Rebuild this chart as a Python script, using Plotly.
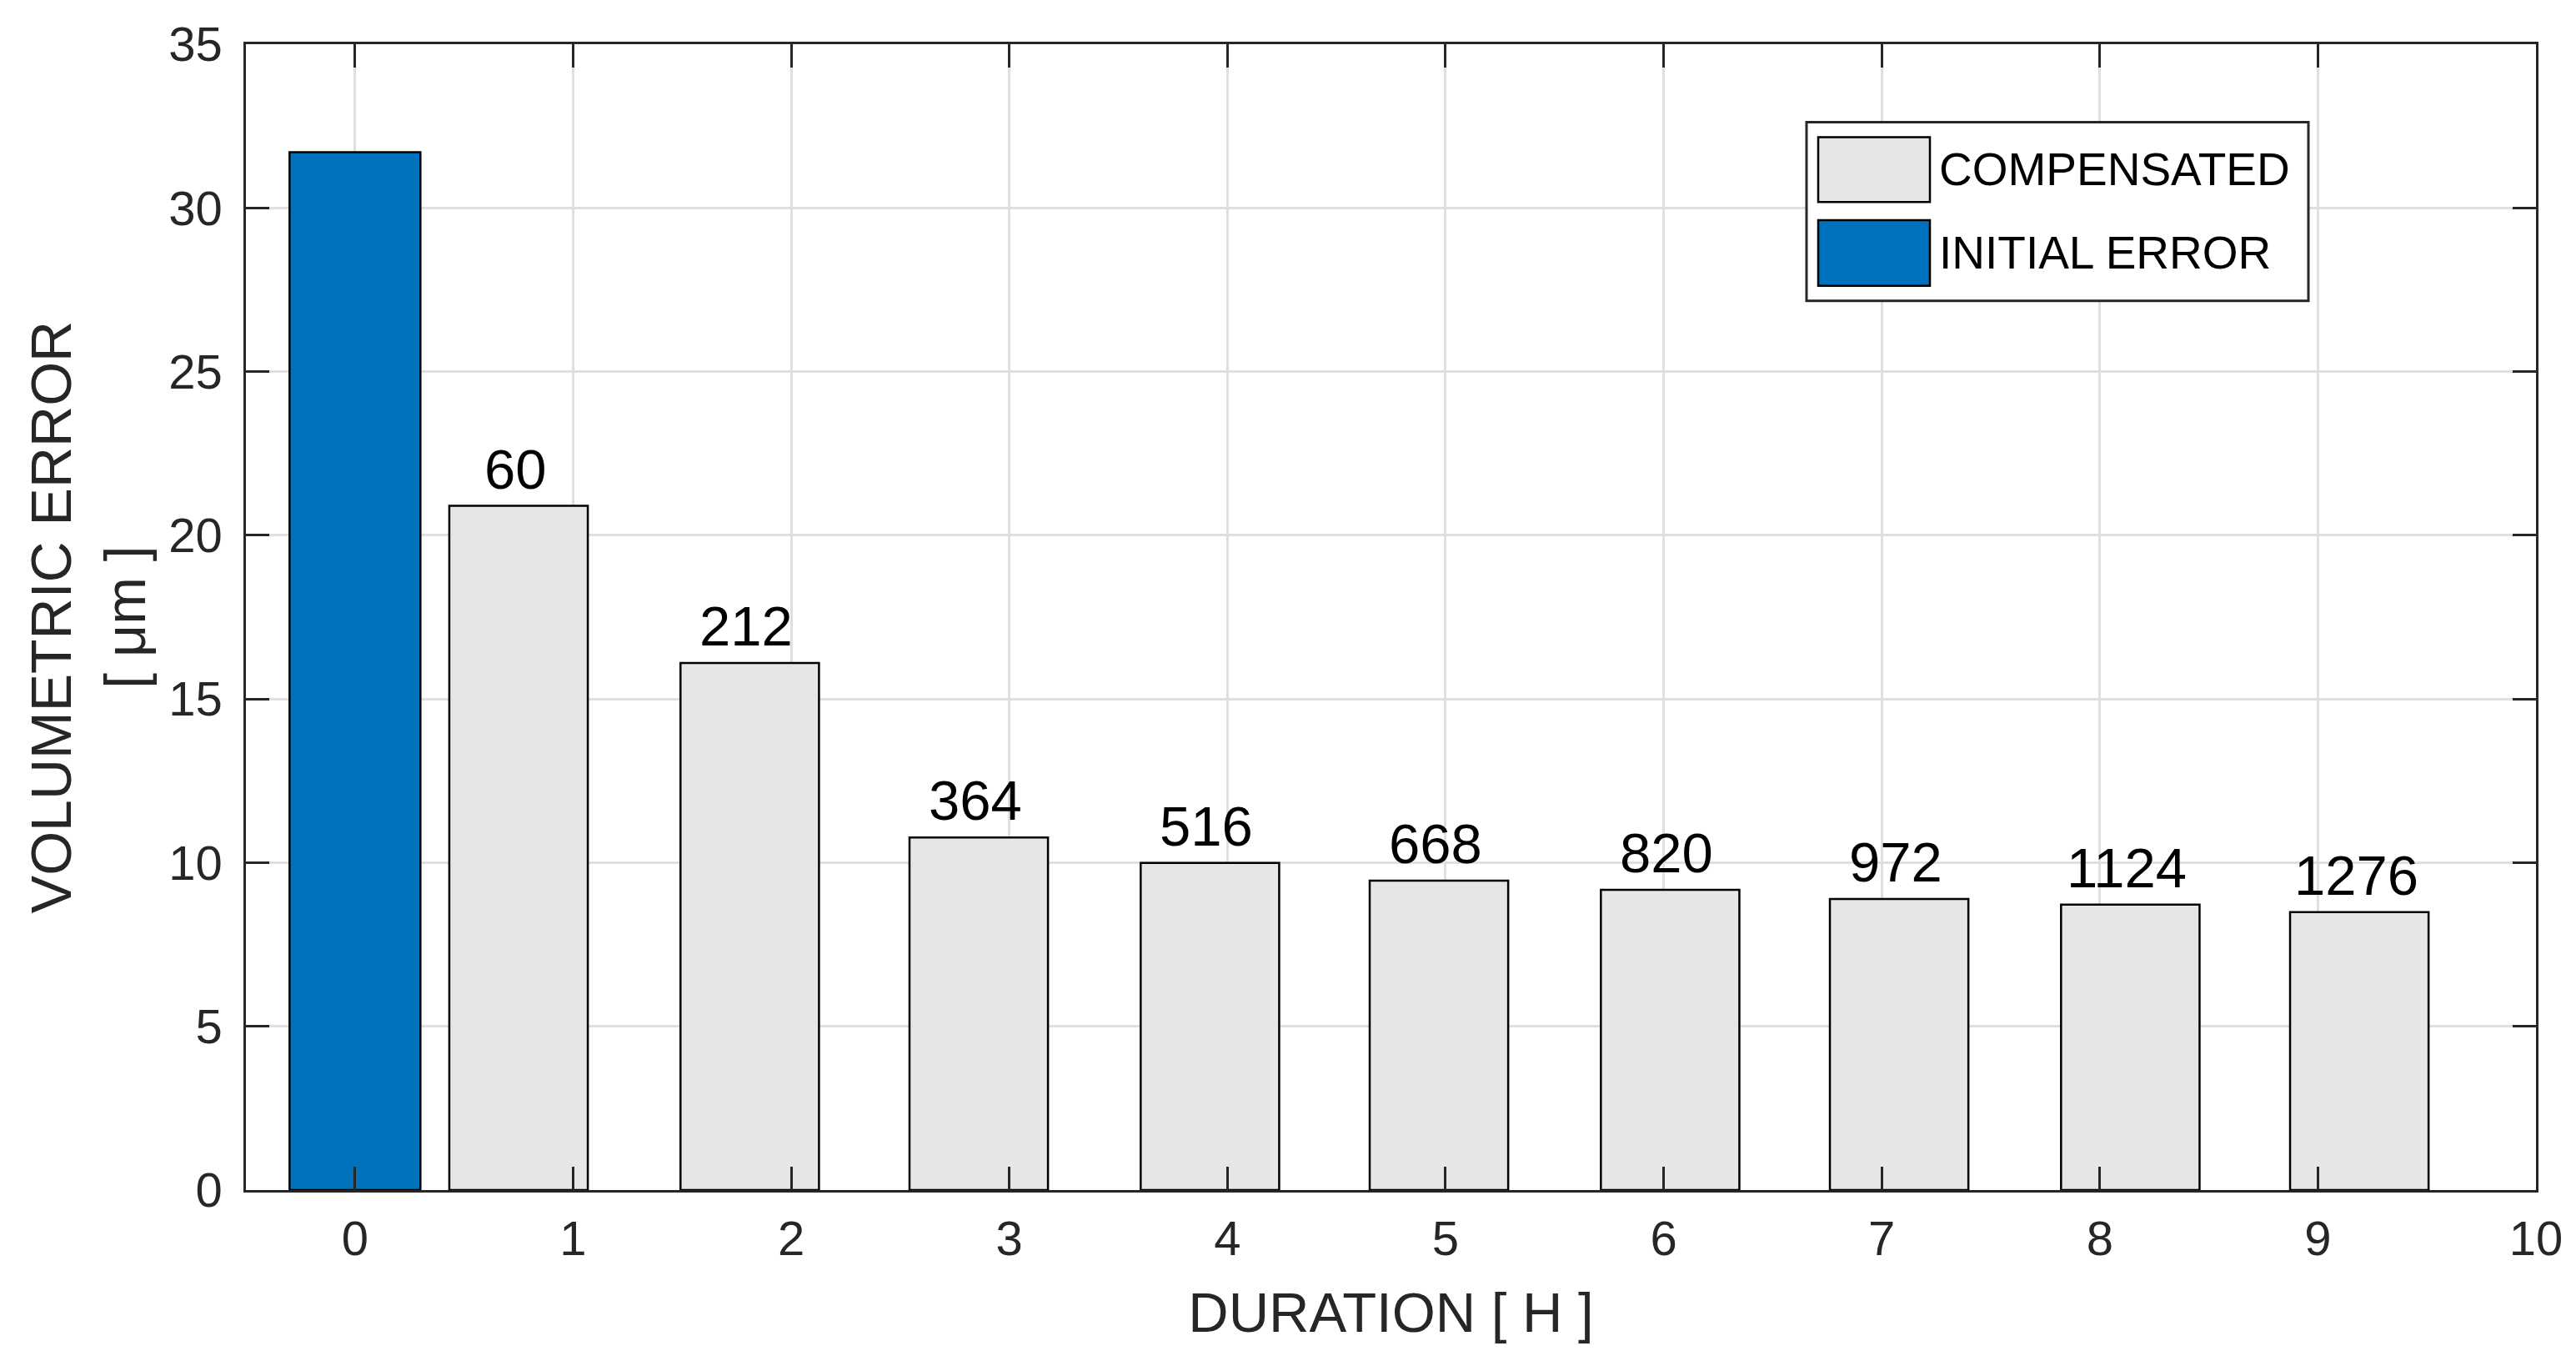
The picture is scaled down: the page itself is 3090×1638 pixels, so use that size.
import plotly.graph_objects as go

# initial error bar (blue)
initial_x = [0]
initial_err = [31.7]

# compensated error bars, positions on the duration axis and their labels
comp_x = [0.75, 1.81, 2.86, 3.92, 4.97, 6.03, 7.08, 8.14, 9.19]
comp_err = [20.9, 16.1, 10.77, 9.99, 9.45, 9.17, 8.89, 8.72, 8.49]
comp_labels = ["60", "212", "364", "516", "668", "820", "972", "1124", "1276"]

x_ticks = list(range(0, 11))
y_ticks = list(range(0, 36, 5))

# page has an 8px body margin, so the figure is a bit smaller than the window
OFF = 8
W, H = 3090 - OFF, 1638 - OFF
FONT = "Liberation Sans, Arial, Helvetica, sans-serif"
AX = "#262626"
BLUE = "#0072BD"
GREY = "#E6E6E6"
GRID = "#DFDFDF"

margin = dict(l=295 - OFF, r=48, t=47 - OFF, b=211)
plot_w = W - margin["l"] - margin["r"]
plot_h = H - margin["t"] - margin["b"]


# window pixel -> paper coords (used only for the hand-drawn legend)
def px(x):
    return (x - OFF - margin["l"]) / plot_w


def py(y):
    return (H + OFF - margin["b"] - y) / plot_h


fig = go.Figure()

fig.add_trace(go.Bar(
    x=comp_x, y=comp_err, width=0.635, name="COMPENSATED",
    marker=dict(color=GREY, line=dict(color="black", width=2.5)),
    showlegend=False,
))
fig.add_trace(go.Bar(
    x=initial_x, y=initial_err, width=0.6, name="INITIAL ERROR",
    marker=dict(color=BLUE, line=dict(color="black", width=2.5)),
    showlegend=False,
))

# labels over compensated bars
for x, y, t in zip(comp_x, comp_err, comp_labels):
    fig.add_annotation(
        x=x, y=y, text=t, showarrow=False, xanchor="center", yanchor="bottom",
        yshift=5, xshift=-4, font=dict(size=67, color="black", family=FONT),
    )

# legend box drawn by hand (big swatches like the original)
fig.add_shape(type="rect", xref="paper", yref="paper",
              x0=px(2167), x1=px(2769), y0=py(356), y1=py(141),
              fillcolor="white", line=dict(color=AX, width=3), layer="above")
legend_items = [("COMPENSATED", GREY, 159, 237), ("INITIAL ERROR", BLUE, 259, 338)]
for name, col, top, bot in legend_items:
    fig.add_shape(type="rect", xref="paper", yref="paper",
                  x0=px(2181), x1=px(2315), y0=py(bot), y1=py(top),
                  fillcolor=col, line=dict(color="black", width=2.5), layer="above")
    fig.add_annotation(
        xref="paper", yref="paper", x=px(2324), y=py((top + bot) / 2),
        text=name, showarrow=False, xanchor="left", yanchor="middle",
        font=dict(size=55, color="black", family=FONT),
    )

axis_common = dict(
    ticks="inside", ticklen=28, tickwidth=2.5, tickcolor=AX,
    showline=True, linecolor=AX, linewidth=2.5, mirror="ticks",
    showgrid=True, gridcolor=GRID, gridwidth=2.5, zeroline=False,
    tickfont=dict(size=58, color=AX, family=FONT),
)

fig.update_layout(
    width=W, height=H,
    margin=margin,
    paper_bgcolor="white", plot_bgcolor="white",
    barmode="overlay",
    font=dict(family=FONT, color=AX),
    xaxis=dict(
        range=[-0.5, 10], tickvals=x_ticks,
        title=dict(text="DURATION [ H ]", font=dict(size=67, color=AX, family=FONT), standoff=34),
        ticklabelstandoff=6,
        **axis_common,
    ),
    yaxis=dict(
        range=[0, 35], tickvals=y_ticks,
        title=dict(text="VOLUMETRIC ERROR<br>[ μm ]", font=dict(size=68, color=AX, family=FONT), standoff=6),
        ticklabelstandoff=14,
        **axis_common,
    ),
    showlegend=False,
)

fig.write_html("out.html")
